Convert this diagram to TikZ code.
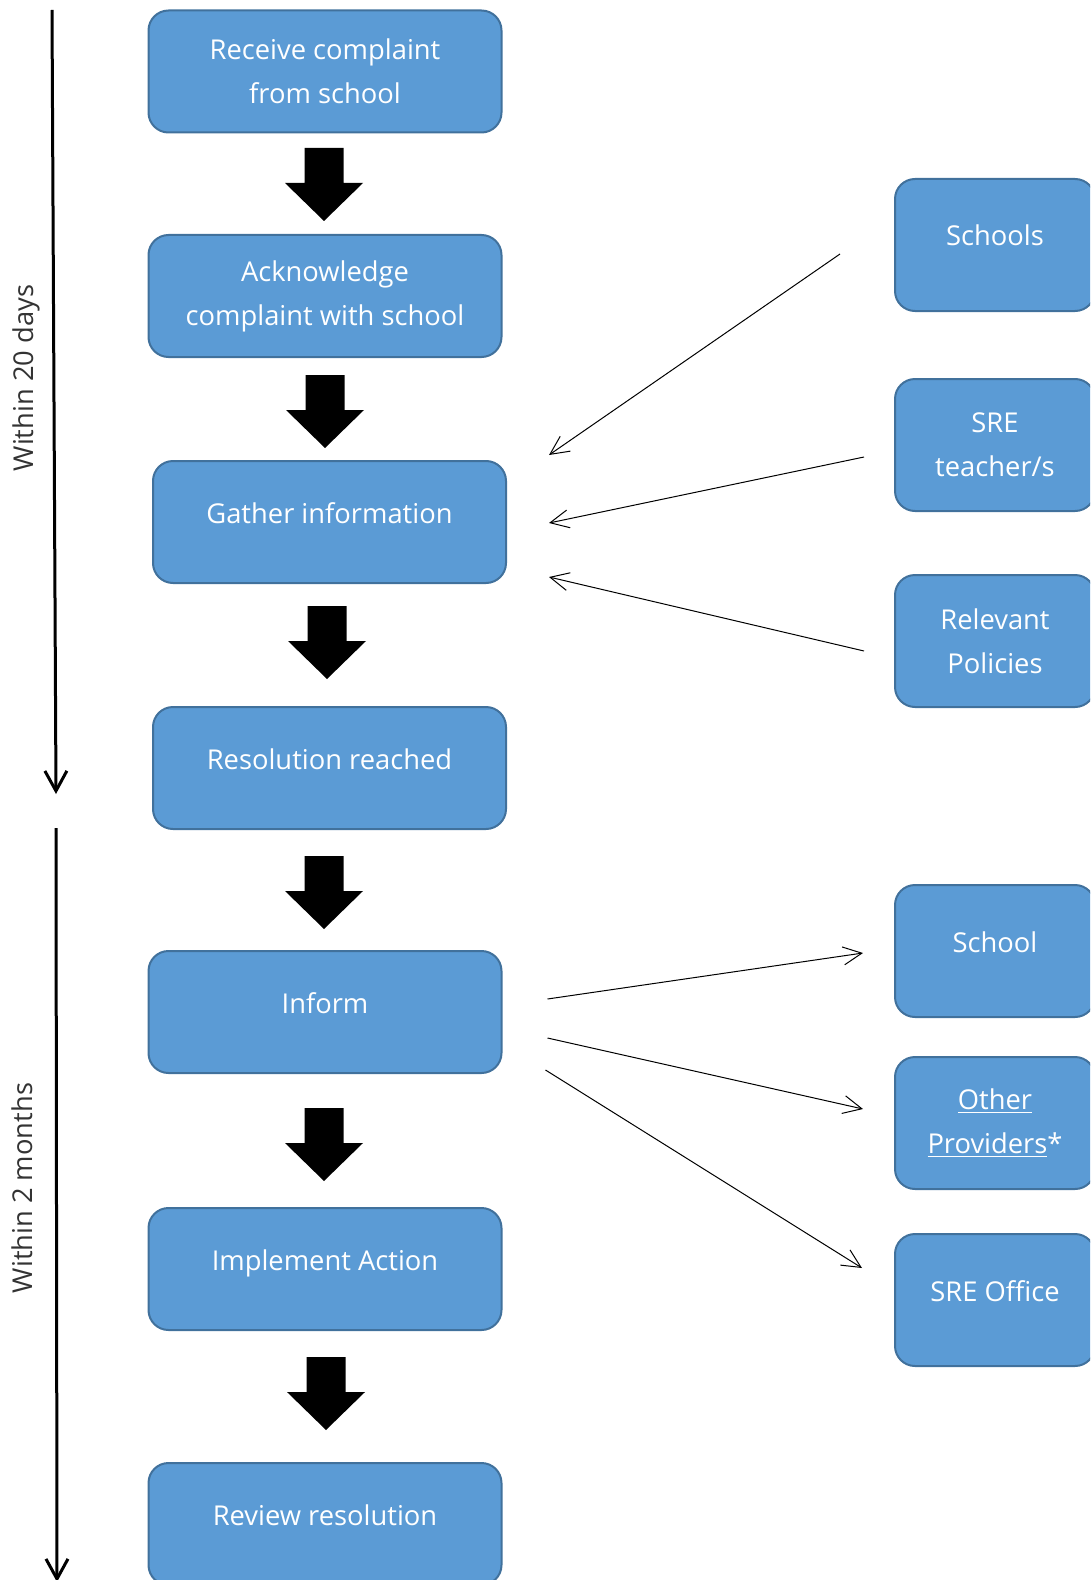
\documentclass[tikz,border=0pt]{standalone}
\usepackage{fontspec}
\setmainfont{Open Sans}
\usetikzlibrary{arrows.meta,calc}
\definecolor{boxfill}{HTML}{5B9BD5}
\definecolor{boxline}{HTML}{41719C}
\tikzset{
    stage/.style={rectangle, rounded corners=15pt, draw=boxline, line width=1.5pt, fill=boxfill,
        text=white, align=center, inner sep=0pt, outer sep=0pt,
        minimum width=264.75pt, minimum height=91.5pt, font=\fontsize{20.5pt}{33pt}\selectfont},
    source/.style={stage, minimum width=150pt, minimum height=99pt},
    oneline/.style={text height=15pt, text depth=13.5pt},
    blockarrow/.style={fill=black},
    feed/.style={-{Straight Barb[length=14pt,width=13.5pt]}, line width=0.75pt},
    timeline/.style={-{Straight Barb[length=15pt,width=16.5pt]}, line width=2.25pt},
    period/.style={rotate=90, anchor=base, text=black!80, font=\fontsize{20.5pt}{33pt}\selectfont}
}
\begin{document}
\begin{tikzpicture}[x=0.75pt, y=-0.75pt]
        \useasboundingbox (0, 0) rectangle (1090, 1580);
        \clip (0, 0) rectangle (1090, 1580);

        \node (receive) at (325, 71.5) [stage] {Receive complaint\\from school};
        \node (acknowledge) at (325, 296) [stage] {Acknowledge\\complaint with school};
        \node (gather) at (329.5, 522) [stage, oneline] {Gather information};
        \node (resolution) at (329.5, 768) [stage, oneline] {Resolution reached};
        \node (inform) at (325, 1012) [stage, oneline] {Inform};
        \node (implement) at (325, 1269) [stage, oneline] {Implement Action};
        \node (review) at (325, 1524) [stage, oneline] {Review resolution};

        \node (schools) at (995, 245) [source, oneline] {Schools};
        \node (teachers) at (995, 445) [source] {SRE\\teacher/s};
        \node (policies) at (995, 641) [source] {Relevant\\Policies};

        \node (school) at (995, 951) [source, oneline] {School};
        \node (providers) at (995, 1123) [source] {\underline{Other}\\\underline{Providers}*};
        \node (office) at (995, 1300) [source, oneline] {SRE Office};

        \fill[blockarrow] (324, 148) ++(-19.5, 0) -- ++(39, 0) -- ++(0, 35) -- ++(19.5, 0) -- ++(-39, 38) -- ++(-39, -38) -- ++(19.5, 0) -- cycle;
        \fill[blockarrow] (325, 375) ++(-19.5, 0) -- ++(39, 0) -- ++(0, 35) -- ++(19.5, 0) -- ++(-39, 38) -- ++(-39, -38) -- ++(19.5, 0) -- cycle;
        \fill[blockarrow] (327, 606) ++(-19.5, 0) -- ++(39, 0) -- ++(0, 35) -- ++(19.5, 0) -- ++(-39, 38) -- ++(-39, -38) -- ++(19.5, 0) -- cycle;
        \fill[blockarrow] (324, 856) ++(-19.5, 0) -- ++(39, 0) -- ++(0, 35) -- ++(19.5, 0) -- ++(-39, 38) -- ++(-39, -38) -- ++(19.5, 0) -- cycle;
        \fill[blockarrow] (324, 1108) ++(-19.5, 0) -- ++(39, 0) -- ++(0, 35) -- ++(19.5, 0) -- ++(-39, 38) -- ++(-39, -38) -- ++(19.5, 0) -- cycle;
        \fill[blockarrow] (326, 1357) ++(-19.5, 0) -- ++(39, 0) -- ++(0, 35) -- ++(19.5, 0) -- ++(-39, 38) -- ++(-39, -38) -- ++(19.5, 0) -- cycle;

        \draw[feed] ($(schools.west)+(-55, 9)$) -- ($(gather.east)+(43, -67)$);
        \draw[feed] ($(teachers.west)+(-31, 12)$) -- ($(gather.east)+(43, 1)$);
        \draw[feed] ($(policies.west)+(-31, 10)$) -- ($(gather.east)+(43, 55)$);

        \draw[feed] ($(inform.east)+(46, -13)$) -- ($(school.west)+(-32, 2)$);
        \draw[feed] ($(inform.east)+(46, 26)$) -- ($(providers.west)+(-32, -14)$);
        \draw[feed] ($(inform.east)+(44, 58)$) -- ($(office.west)+(-33, -32)$);

        \coordinate (days-top) at (52, 10);
        \coordinate (days-end) at (56, 794);
        \coordinate (months-top) at (56, 828);
        \coordinate (months-end) at (57, 1582);
        \draw[timeline] (days-top) -- (days-end);
        \draw[timeline] (months-top) -- (months-end);

        \node (days) at (33, 378) [period] {Within 20 days};
        \node (months) at (32, 1188) [period] {Within 2 months};

    \end{tikzpicture}
\end{document}
